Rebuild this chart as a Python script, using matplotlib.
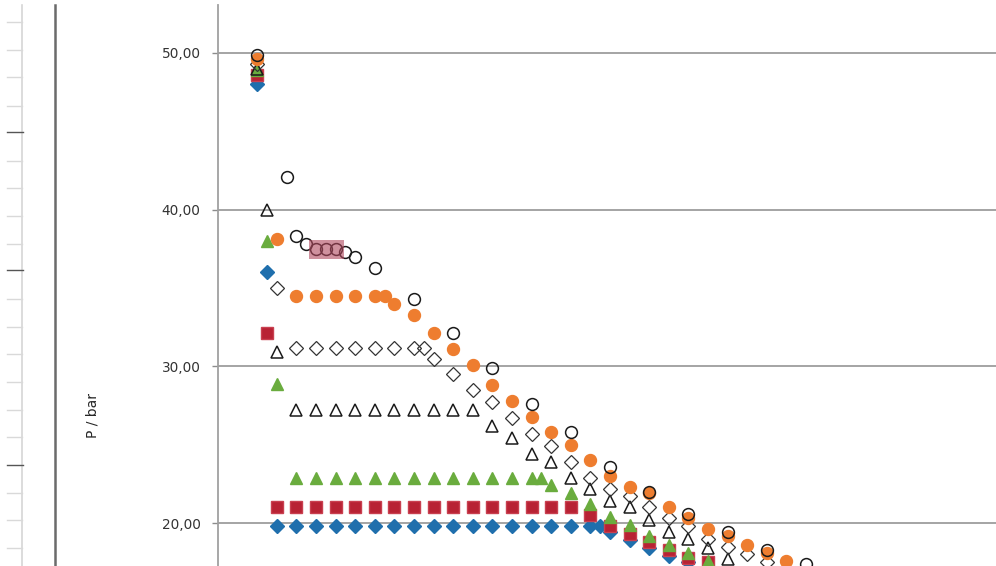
import matplotlib
matplotlib.use("Agg")
import matplotlib.pyplot as plt
from matplotlib.lines import Line2D
from matplotlib.patches import Rectangle
from matplotlib.ticker import FuncFormatter

# --- data (x in column steps, P in bar) ---
circ_x = [2, 3.5, 4, 4.5, 5, 5.5, 6, 6.5, 7, 8, 10, 12, 14, 16, 18, 20, 22, 24, 26, 28, 30]
circ_y = [49.9, 42.1, 38.3, 37.8, 37.5, 37.5, 37.5, 37.3, 37.0, 36.3, 34.3, 32.1, 29.9,
          27.6, 25.8, 23.6, 22.0, 20.6, 19.4, 18.3, 17.4]

orange_x = [2, 3, 4, 5, 6, 7, 8, 8.5, 9, 10, 11, 12, 13, 14, 15, 16, 17, 18, 19, 20,
            21, 22, 23, 24, 25, 26, 27, 28, 29]
orange_y = [49.6, 38.1, 34.5, 34.5, 34.5, 34.5, 34.5, 34.5, 34.0, 33.3, 32.1, 31.1, 30.1,
            28.8, 27.8, 26.8, 25.8, 25.0, 24.0, 23.0, 22.3, 21.9, 21.0, 20.3, 19.6, 19.2,
            18.6, 18.1, 17.6]

odiam_x = [2, 3, 4, 5, 6, 7, 8, 9, 10, 10.5, 11, 12, 13, 14, 15, 16, 17, 18, 19, 20,
           21, 22, 23, 24, 25, 26, 27, 28]
odiam_y = [49.3, 35.0, 31.2, 31.2, 31.2, 31.2, 31.2, 31.2, 31.2, 31.2, 30.5, 29.5, 28.5,
           27.7, 26.7, 25.7, 24.9, 23.9, 22.9, 22.2, 21.7, 21.0, 20.3, 19.8, 19.0, 18.5,
           18.0, 17.5]

otri_x = [2, 2.5, 3, 4, 5, 6, 7, 8, 9, 10, 11, 12, 13, 14, 15, 16, 17, 18, 19, 20, 21,
          22, 23, 24, 25, 26]
otri_y = [49.0, 40.0, 30.9, 27.2, 27.2, 27.2, 27.2, 27.2, 27.2, 27.2, 27.2, 27.2, 27.2,
          26.2, 25.4, 24.4, 23.9, 22.9, 22.2, 21.4, 21.0, 20.2, 19.4, 19.0, 18.4, 17.7]

green_x = [2, 2.5, 3, 4, 5, 6, 7, 8, 9, 10, 11, 12, 13, 14, 15, 16, 16.5, 17, 18, 19,
           20, 21, 22, 23, 24, 25]
green_y = [48.9, 38.0, 28.9, 22.9, 22.9, 22.9, 22.9, 22.9, 22.9, 22.9, 22.9, 22.9, 22.9,
           22.9, 22.9, 22.9, 22.9, 22.4, 21.9, 21.2, 20.4, 19.9, 19.2, 18.6, 18.1, 17.6]

red_x = [2, 2.5, 3, 4, 5, 6, 7, 8, 9, 10, 11, 12, 13, 14, 15, 16, 17, 18, 19, 20, 21,
         22, 23, 24, 25]
red_y = [48.6, 32.1, 21.0, 21.0, 21.0, 21.0, 21.0, 21.0, 21.0, 21.0, 21.0, 21.0, 21.0,
         21.0, 21.0, 21.0, 21.0, 21.0, 20.5, 19.8, 19.3, 18.8, 18.3, 17.8, 17.5]

blue_x = [2, 2.5, 3, 4, 5, 6, 7, 8, 9, 10, 11, 12, 13, 14, 15, 16, 17, 18, 19, 19.5,
          20, 21, 22, 23, 24]
blue_y = [48.0, 36.0, 19.8, 19.8, 19.8, 19.8, 19.8, 19.8, 19.8, 19.8, 19.8, 19.8, 19.8,
          19.8, 19.8, 19.8, 19.8, 19.8, 19.8, 19.8, 19.4, 18.9, 18.4, 17.9, 17.5]

y_ticks = [20, 30, 40, 50]
y_label = "P / bar"
selected = slice(4, 7)  # highlighted circle points

W, H = 996, 566
fig = plt.figure(figsize=(W / 100, H / 100), dpi=100)


def fx(px):
    return px / W


def fy(py):
    return 1 - py / H


# left page ruler / sheet decorations
fig.add_artist(Line2D([fx(22), fx(22)], [fy(5), fy(566)], color="#d6d6d6", lw=1.2))
for t in [22, 50, 77, 106, 161, 188, 216, 244, 299, 327, 354, 382, 410, 437, 493, 520, 548]:
    fig.add_artist(Line2D([fx(7), fx(22)], [fy(t), fy(t)], color="#d9d9d9", lw=1.0))
for t in [132, 270, 465]:
    fig.add_artist(Line2D([fx(7), fx(23)], [fy(t), fy(t)], color="#555555", lw=1.0))
fig.add_artist(Line2D([fx(55), fx(55)], [fy(5), fy(566)], color="#6b6b6b", lw=1.8))

ax = fig.add_axes([fx(218), 0, 1 - fx(218), fy(5)])
ax.set_xlim(0, (W - 218) / 19.6)
ax.set_ylim(17.26, 53.06)

for s in ["top", "right", "bottom"]:
    ax.spines[s].set_visible(False)
ax.spines["left"].set_color("#a0a0a0")
ax.spines["left"].set_linewidth(1.3)

ax.set_yticks(y_ticks)
ax.yaxis.set_major_formatter(FuncFormatter(lambda v, p: f"{v:.2f}".replace(".", ",")))
ax.tick_params(axis="y", direction="out", length=4.5, width=1.0, color="#8c8c8c",
               labelcolor="#333333", labelsize=9.8, pad=8)
ax.set_xticks([])
ax.yaxis.grid(True, color="#8c8c8c", lw=1.1)
ax.set_axisbelow(True)

fig.text(fx(92), fy(415), y_label, rotation=90, ha="center", va="center",
         fontsize=10, color="#262626")

ax.plot(blue_x, blue_y, ls="none", marker="D", ms=6.8, color="#1f6fad", mec="#1f6fad", zorder=3)
ax.plot(red_x, red_y, ls="none", marker="s", ms=8.2, color="#b82234", mec="#c94050", zorder=3)
ax.plot(green_x, green_y, ls="none", marker="^", ms=9, color="#6aac3e", mec="#6aac3e", zorder=3)
ax.plot(otri_x, otri_y, ls="none", marker="^", ms=8.5, mfc="none", mec="#1a1a1a", mew=1.1, zorder=3)
ax.plot(odiam_x, odiam_y, ls="none", marker="D", ms=6.8, mfc="none", mec="#333333", mew=0.9, zorder=3)
ax.plot(orange_x, orange_y, ls="none", marker="o", ms=8.6, color="#ee7d2f", mec="#ee7d2f", zorder=3)
ax.plot(circ_x, circ_y, ls="none", marker="o", ms=8.5, mfc="none", mec="#1a1a1a", mew=1.1, zorder=4)

# Excel selection highlight over three circle points
sx = circ_x[selected]
sy = circ_y[selected]
ax.add_patch(Rectangle((min(sx) - 0.36, min(sy) - 0.62), max(sx) - min(sx) + 0.79, 1.2,
                       color="#b0485e", alpha=0.6, lw=0, zorder=5))

fig.savefig("out.png", dpi=100)
